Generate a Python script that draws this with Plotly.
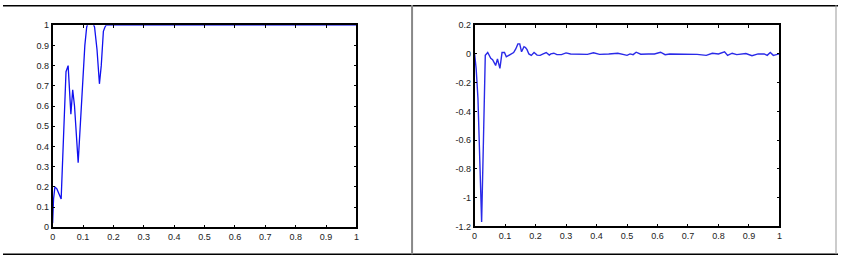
import plotly.graph_objects as go

# Left panel data
x_left = [0, 0.003, 0.0075, 0.014, 0.028, 0.036, 0.044, 0.051, 0.056, 0.06, 0.066, 0.072,
          0.084, 0.094, 0.1, 0.106, 0.112, 0.12, 0.128, 0.134, 0.138, 0.146, 0.154, 0.16,
          0.167, 0.172, 0.176, 0.2, 0.4, 0.6, 0.8, 1.0]
y_left = [0.02, 0.14, 0.2, 0.19, 0.14, 0.45, 0.77, 0.8, 0.68, 0.56, 0.68, 0.6,
          0.32, 0.6, 0.77, 0.9, 0.99, 1.03, 1.03, 1.01, 0.99, 0.88, 0.71, 0.8,
          0.97, 0.99, 1.0, 1.0, 1.0, 1.0, 1.0, 1.0]

# Right panel data
x_right = [0, 0.005, 0.011, 0.017, 0.023, 0.029, 0.035, 0.043, 0.049, 0.053, 0.059, 0.064,
           0.069, 0.075, 0.079, 0.083, 0.09, 0.098, 0.104, 0.112, 0.118, 0.128, 0.135, 0.142,
           0.148, 0.154, 0.162, 0.167, 0.172, 0.178, 0.186, 0.195, 0.205, 0.215, 0.225,
           0.235, 0.245, 0.25, 0.26, 0.27, 0.285, 0.3, 0.315, 0.33, 0.35, 0.37, 0.39,
           0.41, 0.44, 0.47, 0.49, 0.5, 0.51, 0.52, 0.53, 0.545, 0.57, 0.59, 0.61,
           0.625, 0.64, 0.67, 0.7, 0.73, 0.76, 0.78, 0.8, 0.82, 0.83, 0.845, 0.86,
           0.875, 0.89, 0.91, 0.93, 0.95, 0.96, 0.97, 0.98, 0.99, 1.0]
y_right = [0.0, -0.1, -0.31, -0.75, -1.17, -0.6, -0.01, 0.01, -0.02, -0.03, -0.04, -0.06,
           -0.08, -0.035, -0.06, -0.1, 0.01, 0.01, -0.02, -0.01, 0.0, 0.01, 0.035, 0.07,
           0.07, 0.015, 0.05, 0.045, 0.03, 0.0, -0.01, 0.01, -0.008, -0.01, 0.0,
           0.01, -0.008, 0.0, 0.005, -0.005, -0.005, 0.007, 0.0, 0.0, -0.005, -0.003, 0.008,
           -0.003, 0.0, 0.005, -0.005, -0.01, 0.0, -0.005, 0.012, -0.002, 0.0, 0.0, 0.012,
           -0.005, 0.0, 0.0, 0.0, -0.003, -0.01, 0.005, 0.0, 0.015, -0.01, 0.005, -0.005,
           0.0, 0.003, -0.012, 0.0, 0.0, -0.01, 0.01, -0.01, -0.005, 0.0]

x_ticks = [0, 0.1, 0.2, 0.3, 0.4, 0.5, 0.6, 0.7, 0.8, 0.9, 1]
x_labels = ["0", "0.1", "0.2", "0.3", "0.4", "0.5", "0.6", "0.7", "0.8", "0.9", "1"]
yl_ticks = [0, 0.1, 0.2, 0.3, 0.4, 0.5, 0.6, 0.7, 0.8, 0.9, 1]
yl_labels = ["0", "0.1", "0.2", "0.3", "0.4", "0.5", "0.6", "0.7", "0.8", "0.9", "1"]
yr_ticks = [0.2, 0, -0.2, -0.4, -0.6, -0.8, -1, -1.2]
yr_labels = ["0.2", "0", "-0.2", "-0.4", "-0.6", "-0.8", "-1", "-1.2"]

W, H = 841, 266

fig = go.Figure()
fig.add_trace(go.Scatter(x=x_left, y=y_left, mode="lines",
                         line=dict(color="#1010f0", width=1.3), xaxis="x", yaxis="y",
                         showlegend=False))
fig.add_trace(go.Scatter(x=x_right, y=y_right, mode="lines",
                         line=dict(color="#2a2ae8", width=1.4), xaxis="x2", yaxis="y2",
                         showlegend=False))

font = dict(family="Liberation Sans, Arial, sans-serif", size=9, color="#222")
common = dict(showgrid=False, zeroline=False, showline=True, linecolor="black", linewidth=1.5,
              mirror="allticks", ticks="inside", ticklen=3, tickcolor="black", tickwidth=1,
              tickfont=font, tickmode="array")

def px_dom_x(a, b):
    return [a / W, b / W]

def px_dom_y(top, bottom):
    return [1 - bottom / H, 1 - top / H]

fig.update_layout(
    width=W, height=H, margin=dict(l=0, r=0, t=0, b=0),
    paper_bgcolor="white", plot_bgcolor="white",
    xaxis=dict(domain=px_dom_x(50, 356), range=[0, 1], tickvals=x_ticks, ticktext=x_labels,
               anchor="y", **common),
    yaxis=dict(domain=px_dom_y(21, 231), range=[0, 1], tickvals=yl_ticks, ticktext=yl_labels,
               anchor="x", **common),
    xaxis2=dict(domain=px_dom_x(475, 782), range=[0, 1], tickvals=x_ticks, ticktext=x_labels,
                anchor="y2", **common),
    yaxis2=dict(domain=px_dom_y(21, 230), range=[-1.2, 0.2], tickvals=yr_ticks,
                ticktext=yr_labels, anchor="x2", **common),
    shapes=[
        dict(type="line", xref="paper", yref="paper", x0=0, x1=1, y0=1 - 0.7 / H, y1=1 - 0.7 / H,
             line=dict(color="black", width=1.5)),
        dict(type="line", xref="paper", yref="paper", x0=0, x1=1, y0=1 - 259 / H, y1=1 - 259 / H,
             line=dict(color="black", width=1.5)),
        dict(type="line", xref="paper", yref="paper", x0=412 / W, x1=412 / W, y0=1 - 259 / H, y1=1,
             line=dict(color="#888", width=2)),
        dict(type="line", xref="paper", yref="paper", x0=839 / W, x1=839 / W, y0=1 - 259 / H, y1=1,
             line=dict(color="#999", width=1)),
    ],
)

fig.write_html("out.html")
